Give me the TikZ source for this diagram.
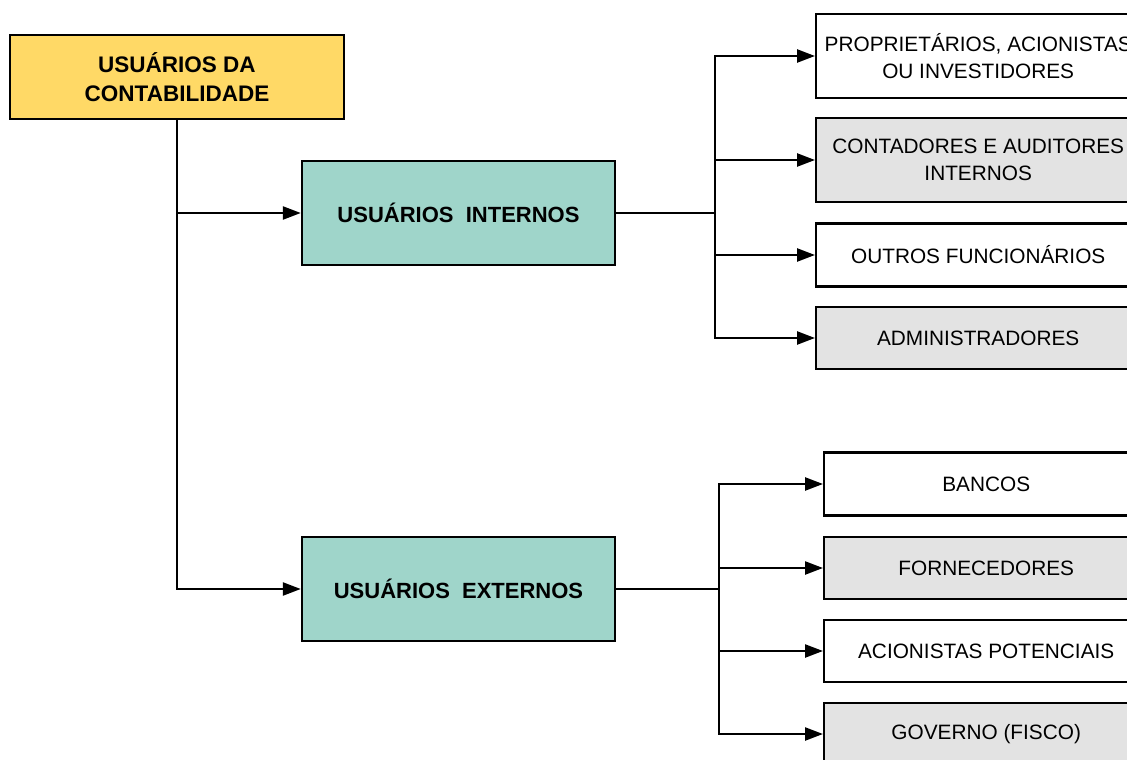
\documentclass[tikz,border=0pt]{standalone}
\usepackage{fontspec}
\setmainfont{Liberation Sans}
\usetikzlibrary{arrows.meta}

\definecolor{usryellow}{HTML}{FFD966}
\definecolor{usrteal}{HTML}{9FD5CA}
\definecolor{usrgray}{HTML}{E3E3E3}

\begin{document}
\begin{tikzpicture}[x=1pt,y=-1pt,
    box/.style={draw,line width=2.4pt,align=center,inner sep=2pt,
      font=\fontsize{20.8}{27}\selectfont},
    head/.style={box,fill=usryellow,font=\fontsize{22.5}{29}\selectfont\bfseries,
      minimum width=334pt,minimum height=84pt},
    group/.style={box,fill=usrteal,font=\fontsize{22}{29}\selectfont\bfseries,
      minimum width=313pt,minimum height=104pt},
    leaf/.style={box,anchor=west,minimum width=324pt},
    arr/.style={-{Triangle[length=18pt,width=13pt]},line width=2.4pt}]
      \useasboundingbox (0,0) rectangle (1127,760);
      \clip (0,0) rectangle (1127,760);
      \node[head] (top) at (177,77) {USUÁRIOS DA\\CONTABILIDADE};
      \node[group] (int) at (458.5,213) {USUÁRIOS\ \ INTERNOS};
      \node[group] (ext) at (458.5,589) {USUÁRIOS\ \ EXTERNOS};
      \draw[arr] (top) |- (ext);
      \draw[arr] (top.south |- int) -- (int);
      %
      \node[leaf,minimum height=84pt] (prop) at (815,56) {PROPRIETÁRIOS, ACIONISTAS\\OU INVESTIDORES};
      \node[leaf,fill=usrgray,minimum height=84pt] (cont) at (815,160) {CONTADORES E AUDITORES\\INTERNOS};
      \node[leaf,minimum height=63pt] (func) at (815,255) {OUTROS FUNCIONÁRIOS};
      \node[leaf,fill=usrgray,minimum height=62pt] (adm) at (815,338) {ADMINISTRADORES};
      \coordinate (bint) at (715,213);
      \draw[line width=2.4pt] (int) -- (bint);
      \foreach \n in {prop,cont,func,adm}
        \draw[arr] (bint) |- (\n);
      %
      \node[leaf,minimum height=63pt] (banc) at (823,484) {BANCOS};
      \node[leaf,fill=usrgray,minimum height=62pt] (forn) at (823,568) {FORNECEDORES};
      \node[leaf,minimum height=62pt] (acio) at (823,651) {ACIONISTAS POTENCIAIS};
      \node[leaf,fill=usrgray,minimum height=62pt] (gov) at (823,734) {GOVERNO (FISCO)};
      \coordinate (bext) at (719,589);
      \draw[line width=2.4pt] (ext) -- (bext);
      \foreach \n in {banc,forn,acio,gov}
        \draw[arr] (bext) |- (\n);
\end{tikzpicture}
\end{document}
